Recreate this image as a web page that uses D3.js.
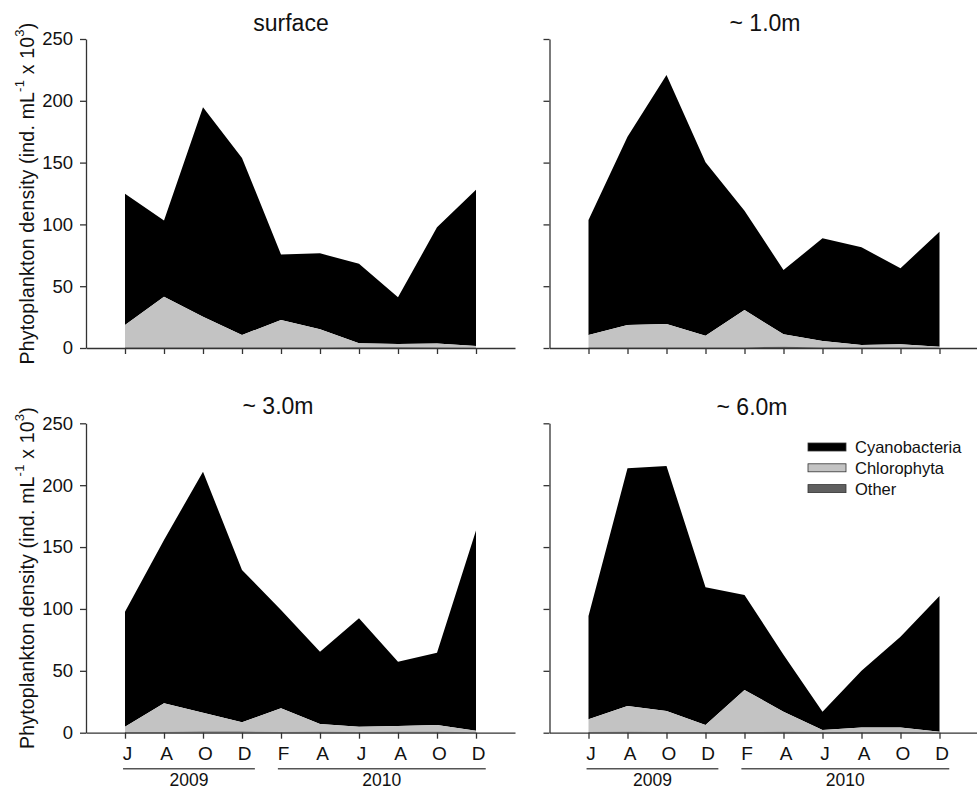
<!DOCTYPE html>
<html><head><meta charset="utf-8">
<script src="https://cdn.jsdelivr.net/npm/d3@7"></script>
<style>
html,body{margin:0;padding:0;background:#fff;}
svg{display:block;font-family:Arial,"Liberation Sans",Helvetica,sans-serif;}
</style></head>
<body>
<svg id="chart" width="977" height="789"></svg>
<script>
// ---- data ----
const months = ["J","A","O","D","F","A","J","A","O","D"];
const yearLabels = ["2009","2010"];
const yTicks = [0,50,100,150,200,250];
const seriesNames = ["Cyanobacteria","Chlorophyta","Other"];
const panelTitles = ["surface","~ 1.0m","~ 3.0m","~ 6.0m"];

// component values per depth (stacked: Other, Chlorophyta, Cyanobacteria)
const surfaceCyano  = [106.1, 61.6, 169.4, 143.3, 53.0, 61.5, 64.3, 37.8, 94.0, 126.4];
const surfaceChloro = [18.1, 41.0, 24.8, 10.0, 22.2, 14.6, 3.2, 2.6, 3.1, 1.3];
const surfaceOther  = [0.5, 0.5, 0.5, 0.5, 0.5, 0.5, 0.6, 0.6, 0.5, 0.3];

const m1Cyano  = [93.1, 152.4, 201.5, 140.2, 80.4, 52.0, 83.0, 79.1, 61.5, 93.1];
const m1Chloro = [10.0, 18.1, 18.9, 9.5, 30.2, 10.1, 5.2, 2.0, 2.6, 0.8];
const m1Other  = [0.5, 0.5, 0.5, 0.5, 0.5, 1.0, 0.5, 0.4, 0.4, 0.2];

const m3Cyano  = [93.0, 132.0, 194.7, 123.1, 79.4, 58.5, 87.6, 52.0, 58.5, 161.7];
const m3Chloro = [4.3, 23.2, 15.2, 7.4, 19.2, 6.2, 4.3, 4.6, 5.5, 1.2];
const m3Other  = [0.5, 0.5, 1.0, 1.0, 0.5, 0.8, 0.5, 0.8, 0.7, 0.4];

const m6Cyano  = [83.5, 192.0, 198.0, 111.3, 76.8, 46.0, 14.8, 45.8, 73.3, 109.7];
const m6Chloro = [10.3, 20.8, 17.0, 5.7, 34.0, 16.2, 1.7, 3.8, 3.8, 0.5];
const m6Other  = [0.5, 0.8, 0.5, 0.5, 0.5, 0.8, 0.5, 0.5, 0.5, 0.3];

const panelData = [
  [surfaceCyano, surfaceChloro, surfaceOther],
  [m1Cyano, m1Chloro, m1Other],
  [m3Cyano, m3Chloro, m3Other],
  [m6Cyano, m6Chloro, m6Other]
];

// ---- layout ----
const colors = {Cyanobacteria:"#000000", Chlorophyta:"#c3c3c3", Other:"#5f5f5f"};
const axisColor = "#333";
const panels = [
  {x0:86,  x1:515,   y0:348,   y1:39,    titleX:291, titleY:31,  left:true,  bottom:false},
  {x0:549.5,x1:978.5,y0:348,   y1:39,    titleX:765, titleY:31,  left:false, bottom:false},
  {x0:86,  x1:515,   y0:732.7, y1:423.3, titleX:278, titleY:414, left:true,  bottom:true},
  {x0:549.5,x1:978.5,y0:732.7, y1:423.3, titleX:752, titleY:415, left:false, bottom:true}
];

const svg = d3.select("#chart");

panels.forEach((p, pi) => {
  const x = d3.scaleLinear().domain([-1, months.length]).range([p.x0, p.x1]);
  const y = d3.scaleLinear().domain([0, 250]).range([p.y0, p.y1]);
  const g = svg.append("g");

  const [cy, ch, ot] = panelData[pi];
  const rows = months.map((m, i) => ({i, Other: ot[i], Chlorophyta: ch[i], Cyanobacteria: cy[i]}));
  const stack = d3.stack().keys(["Other","Chlorophyta","Cyanobacteria"])(rows);
  const area = d3.area().x(d => x(d.data.i)).y0(d => y(d[0])).y1(d => y(d[1]));

  g.selectAll("path.layer").data(stack.slice().reverse()).enter().append("path")
    .attr("class","layer")
    .attr("d", area)
    .attr("fill", d => colors[d.key]);

  // y axis
  const yAxis = d3.axisLeft(y).tickValues(yTicks).tickSize(6).tickSizeOuter(0)
    .tickFormat(p.left ? d3.format("d") : () => "");
  const ya = g.append("g").attr("transform", `translate(${p.x0},0)`).call(yAxis);
  ya.select(".domain").attr("stroke", axisColor).attr("stroke-width", 1.3);
  ya.selectAll(".tick line").attr("stroke", axisColor).attr("stroke-width", 1.3);
  ya.selectAll(".tick text").attr("font-size", 18.5).attr("fill", "#111").attr("x", -13)
    .attr("font-family","Arial, 'Liberation Sans', sans-serif");

  // x axis
  const xAxis = d3.axisBottom(x).tickValues(d3.range(months.length)).tickSize(6).tickSizeOuter(0)
    .tickFormat(p.bottom ? (d => months[d]) : () => "");
  const xa = g.append("g").attr("transform", `translate(0,${p.y0})`).call(xAxis);
  xa.select(".domain").attr("stroke", axisColor).attr("stroke-width", 1.3);
  xa.selectAll(".tick text").attr("font-size", 19).attr("fill", "#111").attr("y", 14)
    .attr("dx", 2)
    .attr("font-family","Arial, 'Liberation Sans', sans-serif");
  xa.selectAll(".tick line").attr("stroke", axisColor).attr("stroke-width", 1.3);

  // title
  g.append("text").attr("x", p.titleX).attr("y", p.titleY).attr("text-anchor","middle")
    .attr("font-size", 23).attr("fill","#111").text(panelTitles[pi]);

  // y label
  if (p.left) {
    const cyMid = (p.y0 + p.y1) / 2;
    const t = g.append("text").attr("transform", `translate(27,${cyMid}) rotate(-90)`)
      .attr("text-anchor","middle").attr("dominant-baseline","central")
      .attr("font-size", 19.5).attr("fill","#111").attr("letter-spacing", 0.2);
    t.append("tspan").text("Phytoplankton density (ind. mL");
    t.append("tspan").attr("font-size", 13).attr("dy", -8).text("-1");
    t.append("tspan").attr("dy", 8).text(" x 10");
    t.append("tspan").attr("font-size", 13).attr("dy", -8).text("3");
    t.append("tspan").attr("dy", 8).text(")");
  }

  // year groupings
  if (p.bottom) {
    const spans = [[-0.05, 3.33], [3.92, 9.25]];
    spans.forEach((s, k) => {
      g.append("line").attr("x1", x(s[0])).attr("x2", x(s[1]))
        .attr("y1", p.y0 + 36).attr("y2", p.y0 + 36)
        .attr("stroke", "#555").attr("stroke-width", 1.5);
      g.append("text").attr("x", x((s[0] + s[1]) / 2)).attr("y", p.y0 + 53)
        .attr("text-anchor","middle").attr("font-size", 17.5).attr("fill","#111")
        .text(yearLabels[k]);
    });
  }

  // legend (in ~6.0m panel)
  if (pi === 3) {
    const lg = g.append("g");
    seriesNames.forEach((n, k) => {
      const yy = 443 + k * 20.8;
      lg.append("rect").attr("x", 808).attr("y", yy).attr("width", 38).attr("height", 8)
        .attr("fill", colors[n]).attr("stroke", "#333").attr("stroke-width", 0.8);
      lg.append("text").attr("x", 855).attr("y", yy + 4).attr("dominant-baseline","central")
        .attr("font-size", 16.5).attr("fill","#111").text(n);
    });
  }
});
</script>
</body></html>
